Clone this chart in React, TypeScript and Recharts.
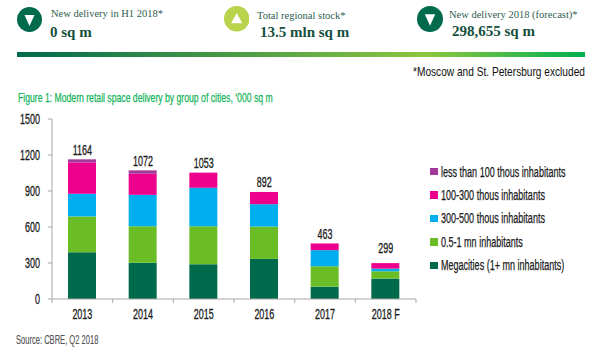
import { ComposedChart, Bar, Line, XAxis, YAxis, Legend, LabelList } from 'recharts';

const years = ['2013', '2014', '2015', '2016', '2017', '2018 F'];
const totals = [1164, 1072, 1053, 892, 463, 299];
const megacities = [390, 303, 290, 334, 103, 170];
const halfToOneMn = [298, 304, 317, 270, 170, 61];
const thous300to500 = [189, 261, 320, 186, 134, 22];
const thous100to300 = [261, 176, 126, 102, 56, 46];
const under100 = [26, 28, 0, 0, 0, 0];
const yTicks = [0, 300, 600, 900, 1200, 1500];

const rows = years.map((year, i) => ({
  year,
  total: totals[i],
  mega: megacities[i],
  mid: halfToOneMn[i],
  large: thous300to500[i],
  small: thous100to300[i],
  tiny: under100[i],
}));

const SANS = '"Liberation Sans", sans-serif';
const SERIF = '"Liberation Serif", serif';
const AXIS_GREY = '#a6a6a6';
const INK = '#1a1a1a';
const SQUEEZE = 0.64;

const legendItems = [
  { name: 'less than 100 thous inhabitants', color: '#a5399a' },
  { name: '100-300 thous inhabitants', color: '#ec008c' },
  { name: '300-500 thous inhabitants', color: '#00aeef' },
  { name: '0.5-1 mn inhabitants', color: '#6abd25' },
  { name: 'Megacities (1+ mn inhabitants)', color: '#006a4d' },
];

// no condensed font is installed, so the text is squeezed sideways
function NarrowText({ x, y, anchor, children }: any) {
  return (
    <text
      transform={`translate(${x},${y}) scale(${SQUEEZE},1)`}
      textAnchor={anchor}
      fontSize={14}
      fontFamily={SANS}
      fill={INK}
      stroke={INK}
      strokeWidth={0.3}
    >
      {children}
    </text>
  );
}

function XTick({ x, y, payload, index }: any) {
  const step = 60.67;
  return (
    <g>
      <line x1={x - step / 2} x2={x - step / 2} y1={y - 8} y2={y - 4} stroke={AXIS_GREY} />
      {index === years.length - 1 && (
        <line x1={x + step / 2} x2={x + step / 2} y1={y - 8} y2={y - 4} stroke={AXIS_GREY} />
      )}
      <NarrowText x={x} y={y + 12} anchor="middle">{payload.value}</NarrowText>
    </g>
  );
}

function YTick({ y, payload }: any) {
  return <NarrowText x={40} y={y + 5} anchor="end">{payload.value}</NarrowText>;
}

function TotalLabel({ x, y, value, index }: any) {
  const lift = index === years.length - 1 ? 10 : 4.5;
  return <NarrowText x={x} y={y - lift} anchor="middle">{value}</NarrowText>;
}

function Squeezed({ left, top, size, scale, color, weight, children }: any) {
  return (
    <div
      style={{
        position: 'absolute',
        left,
        top,
        fontFamily: SANS,
        fontSize: size,
        color,
        whiteSpace: 'nowrap',
        transform: `scaleX(${scale})`,
        transformOrigin: 'left center',
        WebkitTextStroke: weight ? `${weight}px ${color}` : undefined,
      }}
    >
      {children}
    </div>
  );
}

function CityLegend() {
  return (
    <div style={{ position: 'relative', width: 184, height: 117, fontFamily: SANS, fontSize: 14, color: INK }}>
      {legendItems.map((item, i) => (
        <div key={item.name} style={{ position: 'absolute', top: i * 23.4, left: 14, height: 23.4, display: 'flex', alignItems: 'center', whiteSpace: 'nowrap' }}>
          <span style={{ flexShrink: 0, width: 7.5, height: 7.5, background: item.color, marginRight: 3 }} />
          <span style={{ transform: 'scaleX(0.645)', transformOrigin: 'left center', WebkitTextStroke: `0.25px ${INK}` }}>{item.name}</span>
        </div>
      ))}
    </div>
  );
}

function Badge({ left, top, size, bg, up }: { left: number; top: number; size: number; bg: string; up?: boolean }) {
  const points = up
    ? `${size * 0.28},${size * 0.68} ${size * 0.72},${size * 0.68} ${size * 0.5},${size * 0.28}`
    : `${size * 0.3},${size * 0.32} ${size * 0.7},${size * 0.32} ${size * 0.5},${size * 0.76}`;
  return (
    <svg width={size} height={size} style={{ position: 'absolute', left, top }}>
      <circle cx={size / 2} cy={size / 2} r={size / 2} fill={bg} />
      <polygon points={points} fill="#fff" />
    </svg>
  );
}

function Stat({ left, top, label, valueLeft, valueTop, value }: { left: number; top: number; label: string; valueLeft: number; valueTop: number; value: string }) {
  return (
    <>
      <div style={{ position: 'absolute', left, top, fontFamily: SERIF, fontSize: 10.5, color: '#2f5d4f', whiteSpace: 'nowrap' }}>{label}</div>
      <div style={{ position: 'absolute', left: valueLeft, top: valueTop, fontFamily: SERIF, fontSize: 15, fontWeight: 700, color: '#14503e', whiteSpace: 'nowrap' }}>{value}</div>
    </>
  );
}

export default function App() {
  return (
    <div style={{ position: 'absolute', left: 0, top: 0, width: 600, height: 355, background: '#fff', overflow: 'hidden' }}>
      <Badge left={17} top={7} size={25} bg="#006a4d" />
      <Badge left={223.5} top={6} size={25.5} bg="#b9d34a" up />
      <Badge left={417} top={6} size={26} bg="#006a4d" />
      <Stat left={51} top={8} label="New delivery in H1 2018*" valueLeft={50} valueTop={24} value="0 sq m" />
      <Stat left={257} top={10} label="Total regional stock*" valueLeft={260} valueTop={24} value="13.5 mln sq m" />
      <Stat left={449} top={9} label="New delivery 2018 (forecast)*" valueLeft={452} valueTop={23} value="298,655 sq m" />
      <div style={{ position: 'absolute', left: 17, top: 52, width: 568, height: 5, background: 'linear-gradient(to right, #006a4d, #8cc63f 72%, #00b050)' }} />
      <Squeezed left={413} top={64} size={13} scale={0.78} color="#111">*Moscow and St. Petersburg excluded</Squeezed>
      <Squeezed left={18} top={90} size={13} scale={0.665} color="#14b45a" weight={0.25}>
        Figure 1: Modern retail space delivery by group of cities, ‘000 sq m
      </Squeezed>
      <Squeezed left={16} top={333} size={12} scale={0.63} color="#555" weight={0.15}>Source: CBRE, Q2 2018</Squeezed>
      <div style={{ position: 'absolute', left: 0, top: 0 }}>
        <ComposedChart width={600} height={355} data={rows} barSize={28} margin={{ top: 119, right: 0, bottom: 0, left: 0 }}>
          <XAxis dataKey="year" height={56} axisLine={{ stroke: AXIS_GREY }} tickLine={false} tick={<XTick />} interval={0} />
          <YAxis
            width={52}
            domain={[0, 1500]}
            ticks={yTicks}
            axisLine={{ stroke: AXIS_GREY }}
            tickLine={{ stroke: AXIS_GREY }}
            tickSize={4}
            tick={<YTick />}
          />
          <Legend
            layout="vertical"
            align="right"
            verticalAlign="top"
            content={<CityLegend />}
            wrapperStyle={{ width: 184, top: 160 }}
          />
          <Bar dataKey="mega" stackId="a" fill="#006a4d" isAnimationActive={false} />
          <Bar dataKey="mid" stackId="a" fill="#6abd25" isAnimationActive={false} />
          <Bar dataKey="large" stackId="a" fill="#00aeef" isAnimationActive={false} />
          <Bar dataKey="small" stackId="a" fill="#ec008c" isAnimationActive={false} />
          <Bar dataKey="tiny" stackId="a" fill="#a5399a" isAnimationActive={false} />
          <Line dataKey="total" stroke="none" dot={false} activeDot={false} isAnimationActive={false}>
            <LabelList dataKey="total" content={<TotalLabel />} />
          </Line>
        </ComposedChart>
      </div>
    </div>
  );
}
